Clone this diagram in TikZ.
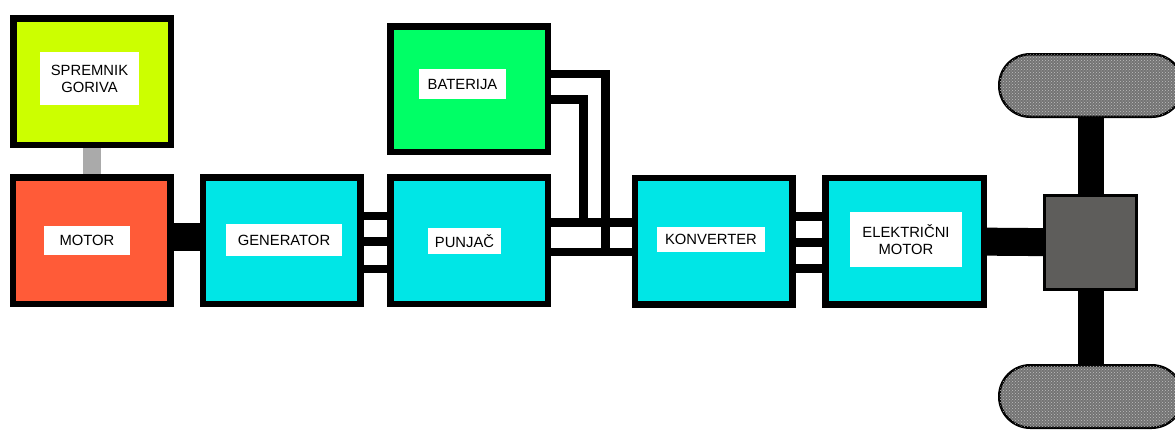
\documentclass[tikz,border=0pt]{standalone}
\usepackage{fontspec}
\setsansfont{Liberation Sans}
\usetikzlibrary{backgrounds,patterns}
\definecolor{tankgreen}{HTML}{CCFF00}
\definecolor{motorred}{HTML}{FF5B38}
\definecolor{unitcyan}{HTML}{00E6E6}
\definecolor{battgreen}{HTML}{00FF66}
\definecolor{fuelgray}{HTML}{AAAAAA}
\definecolor{diffgray}{HTML}{5E5D5B}
\begin{document}
\begin{tikzpicture}[
    x=1pt, y=-1pt,
    font=\sffamily\fontsize{14.8}{17}\selectfont,
    unit/.style={draw=black, line width=6.5pt, minimum width=157.5pt, minimum height=126.5pt, inner sep=0pt},
    tag/.style={fill=white, inner sep=0pt, align=center},
    wire/.style={line width=8.5pt},
    shaft/.style={line width=28pt},
    wheel/.style={draw=black, line width=2.5pt, fill=black!55, rounded corners=31pt,
      minimum width=183.5pt, minimum height=62.5pt, inner sep=0pt,
      postaction={pattern=crosshatch dots, pattern color=black!25}}
  ]
    \useasboundingbox (0,0) rectangle (1175,431);
    \clip (0,0) rectangle (1175,431);

    % blocks
    \node[unit, fill=tankgreen] (spremnik) at (92,81.5) {};
    \node[unit, fill=motorred] (motor) at (91.5,240.5) {};
    \node[unit, fill=unitcyan] (generator) at (281.5,240.5) {};
    \node[unit, fill=unitcyan] (punjac) at (469,240.5) {};
    \node[unit, fill=battgreen, minimum height=125.5pt] (baterija) at (469,89) {};
    \node[unit, fill=unitcyan] (konverter) at (713.5,241) {};
    \node[unit, fill=unitcyan, minimum width=158.5pt] (emotor) at (904.5,241) {};

    % drive
    \node[draw=black, line width=3pt, fill=diffgray, minimum width=92pt, minimum height=94pt] (diff) at (1090.5,242.5) {};
    \node[wheel] (wheeltop) at (1091,85.5) {};
    \node[wheel] (wheelbot) at (1091,396.5) {};

    % labels
    \node[tag, minimum width=99pt, minimum height=53pt] (spremniklbl) at (89.5,78.5) {SPREMNIK\\GORIVA};
    \node[tag, minimum width=86pt, minimum height=29pt] (motorlbl) at (87,240.5) {MOTOR};
    \node[tag, minimum width=116pt, minimum height=32pt] (generatorlbl) at (284,240) {GENERATOR};
    \node[tag, minimum width=73pt, minimum height=26pt] (punjaclbl) at (464.5,241) {PUNJAČ};
    \node[tag, minimum width=87pt, minimum height=30pt] (baterijalbl) at (462.5,84) {BATERIJA};
    \node[tag, minimum width=108pt, minimum height=25pt] (konverterlbl) at (711,239.5) {KONVERTER};
    \node[tag, minimum width=112pt, minimum height=55pt] (emotorlbl) at (906,239.5) {ELEKTRIČNI\\MOTOR};

    \coordinate (jtop) at (583.5,222.5);
    \coordinate (jbot) at (605.5,252);

    \begin{scope}[on background layer]
      \draw[line width=18pt, fuelgray] (spremnik) -- (spremnik |- motor);
      \draw[shaft] ([yshift=3.5pt]motor.center) -- ([yshift=3.5pt]generator.center);
      \foreach \yy in {216,241.5,269}
        \draw[wire] (generator |- 0,\yy) -- (punjac |- 0,\yy);
      \foreach \yy in {222.5,252}
        \draw[wire] (punjac |- 0,\yy) -- (konverter |- 0,\yy);
      \draw[wire] (baterija |- 0,74) -| (jbot);
      \draw[wire] (baterija |- 0,99.5) -| (jtop);
      \foreach \yy in {216.5,242.5,268.5}
        \draw[wire] (konverter |- 0,\yy) -- (emotor |- 0,\yy);
      \draw[shaft] (emotor) -- (diff);
      \draw[line width=26pt] (wheeltop) -- (wheelbot);
    \end{scope}
\end{tikzpicture}
\end{document}
